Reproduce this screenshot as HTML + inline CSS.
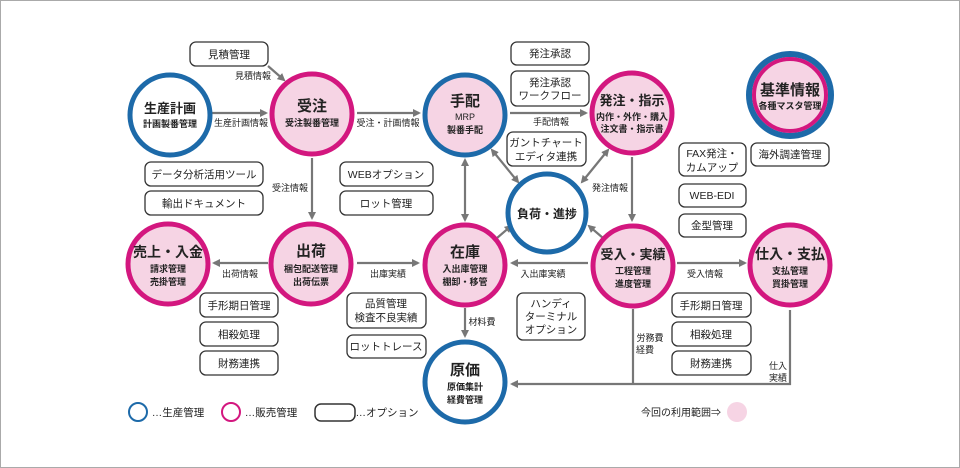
<!DOCTYPE html>
<html><head><meta charset="utf-8"><style>
html,body{margin:0;padding:0;background:#fff}
svg{display:block}
text{font-family:"Liberation Sans","Noto Sans CJK JP",sans-serif;fill:#222;text-anchor:middle}
.b{fill:#fff;stroke:#333;stroke-width:1.3}
.l{stroke:#777;stroke-width:2.2;fill:none}
.s{font-size:9px}
.o{font-size:10.5px}
</style></head><body>
<svg width="960" height="468" viewBox="0 0 960 468" xmlns="http://www.w3.org/2000/svg">
<defs>
<marker id="a" markerWidth="8" markerHeight="8" refX="6" refY="4" orient="auto-start-reverse" markerUnits="userSpaceOnUse"><path d="M0,0 L8,4 L0,8 z" fill="#777"/></marker>
</defs>
<rect x="0.5" y="0.5" width="959" height="467" fill="#fff" stroke="#aaa"/>

<!-- connectors -->
<line class="l" x1="212" y1="113" x2="266" y2="113" marker-end="url(#a)"/>
<line class="l" x1="268" y1="66" x2="284" y2="80" marker-end="url(#a)"/>
<line class="l" x1="357" y1="113" x2="419" y2="113" marker-end="url(#a)"/>
<line class="l" x1="510" y1="113" x2="586" y2="113" marker-end="url(#a)"/>
<line class="l" x1="312" y1="158" x2="312" y2="218" marker-end="url(#a)"/>
<line class="l" x1="465" y1="160" x2="465" y2="220" marker-start="url(#a)" marker-end="url(#a)"/>
<line class="l" x1="492" y1="150" x2="518" y2="182" marker-start="url(#a)" marker-end="url(#a)"/>
<line class="l" x1="608" y1="150" x2="582" y2="182" marker-start="url(#a)" marker-end="url(#a)"/>
<line class="l" x1="632" y1="157" x2="632" y2="220" marker-end="url(#a)"/>
<line class="l" x1="497" y1="238" x2="511" y2="226" marker-end="url(#a)"/>
<line class="l" x1="603" y1="238" x2="589" y2="226" marker-end="url(#a)"/>
<line class="l" x1="268" y1="263" x2="214" y2="263" marker-end="url(#a)"/>
<line class="l" x1="357" y1="263" x2="418" y2="263" marker-end="url(#a)"/>
<line class="l" x1="588" y1="263" x2="512" y2="263" marker-end="url(#a)"/>
<line class="l" x1="677" y1="263" x2="745" y2="263" marker-end="url(#a)"/>
<line class="l" x1="465" y1="308" x2="465" y2="336" marker-end="url(#a)"/>
<line class="l" x1="633" y1="309" x2="633" y2="384"/>
<polyline class="l" points="790,310 790,384 512,384" marker-end="url(#a)"/>

<!-- connector labels -->
<text class="s" x="241" y="126">生産計画情報</text>
<text class="s" x="253" y="79">見積情報</text>
<text class="s" x="388" y="126">受注・計画情報</text>
<text class="s" x="551" y="125">手配情報</text>
<text class="s" x="290" y="191">受注情報</text>
<text class="s" x="610" y="191">発注情報</text>
<text class="s" x="240" y="277">出荷情報</text>
<text class="s" x="388" y="277">出庫実績</text>
<text class="s" x="543" y="277">入出庫実績</text>
<text class="s" x="705" y="277">受入情報</text>
<text class="s" x="482" y="325">材料費</text>
<text class="s" x="650" y="341">労務費</text>
<text class="s" x="645" y="353">経費</text>
<text class="s" x="778" y="369">仕入</text>
<text class="s" x="778" y="381">実績</text>

<!-- option boxes -->
<g class="o">
<rect class="b" x="190" y="42" width="78" height="24" rx="6"/><text x="229" y="58">見積管理</text>
<rect class="b" x="145" y="162" width="118" height="24" rx="6"/><text x="204" y="178">データ分析活用ツール</text>
<rect class="b" x="145" y="191" width="118" height="24" rx="6"/><text x="204" y="207">輸出ドキュメント</text>
<rect class="b" x="340" y="162" width="93" height="24" rx="6"/><text x="386" y="178">WEBオプション</text>
<rect class="b" x="340" y="191" width="93" height="24" rx="6"/><text x="386" y="207">ロット管理</text>
<rect class="b" x="511" y="42" width="78" height="23" rx="6"/><text x="550" y="57">発注承認</text>
<rect class="b" x="511" y="71" width="78" height="35" rx="6"/><text x="550" y="86">発注承認</text><text x="550" y="99">ワークフロー</text>
<rect class="b" x="507" y="132" width="79" height="34" rx="6"/><text x="546" y="146">ガントチャート</text><text x="546" y="160">エディタ連携</text>
<rect class="b" x="679" y="143" width="67" height="33" rx="6"/><text x="712" y="157">FAX発注・</text><text x="712" y="171">カムアップ</text>
<rect class="b" x="751" y="143" width="78" height="23" rx="6"/><text x="790" y="158">海外調達管理</text>
<rect class="b" x="679" y="184" width="67" height="23" rx="6"/><text x="712" y="199">WEB-EDI</text>
<rect class="b" x="679" y="214" width="67" height="23" rx="6"/><text x="712" y="229">金型管理</text>
<rect class="b" x="200" y="293" width="78" height="24" rx="6"/><text x="239" y="309">手形期日管理</text>
<rect class="b" x="200" y="322" width="78" height="24" rx="6"/><text x="239" y="338">相殺処理</text>
<rect class="b" x="200" y="351" width="78" height="24" rx="6"/><text x="239" y="367">財務連携</text>
<rect class="b" x="347" y="293" width="79" height="35" rx="6"/><text x="386" y="307">品質管理</text><text x="386" y="321">検査不良実績</text>
<rect class="b" x="347" y="335" width="79" height="23" rx="6"/><text x="386" y="350">ロットトレース</text>
<rect class="b" x="517" y="293" width="68" height="47" rx="6"/><text x="551" y="307">ハンディ</text><text x="551" y="320">ターミナル</text><text x="551" y="333">オプション</text>
<rect class="b" x="672" y="293" width="79" height="24" rx="6"/><text x="711" y="309">手形期日管理</text>
<rect class="b" x="672" y="322" width="79" height="24" rx="6"/><text x="711" y="338">相殺処理</text>
<rect class="b" x="672" y="351" width="79" height="24" rx="6"/><text x="711" y="367">財務連携</text>
</g>

<!-- circles -->
<g stroke-width="5">
<circle cx="170" cy="115" r="40" fill="#fff" stroke="#1d6aa9"/>
<circle cx="312" cy="114" r="40" fill="#f6d4e4" stroke="#d3177f"/>
<circle cx="465" cy="115" r="40" fill="#f6d4e4" stroke="#1d6aa9"/>
<circle cx="632" cy="113" r="40" fill="#f6d4e4" stroke="#d3177f"/>
<circle cx="790" cy="95" r="41" fill="#f6d4e4" stroke="#1d6aa9" stroke-width="6"/>
<circle cx="790" cy="95" r="36" fill="none" stroke="#d3177f" stroke-width="4"/>
<circle cx="547" cy="213" r="39" fill="#fff" stroke="#1d6aa9"/>
<circle cx="168" cy="264" r="40" fill="#f6d4e4" stroke="#d3177f"/>
<circle cx="311" cy="264" r="40" fill="#f6d4e4" stroke="#d3177f"/>
<circle cx="465" cy="265" r="40" fill="#f6d4e4" stroke="#d3177f"/>
<circle cx="633" cy="266" r="40" fill="#f6d4e4" stroke="#d3177f"/>
<circle cx="790" cy="265" r="40" fill="#f6d4e4" stroke="#d3177f"/>
<circle cx="465" cy="382" r="40" fill="#fff" stroke="#1d6aa9"/>
</g>

<!-- circle text -->
<g font-weight="bold">
<text x="170" y="113" font-size="13">生産計画</text><text x="170" y="127" font-size="9">計画製番管理</text>
<text x="312" y="111" font-size="15">受注</text><text x="312" y="126" font-size="9">受注製番管理</text>
<text x="465" y="106" font-size="15">手配</text><text x="465" y="120" font-size="9" font-weight="normal">MRP</text><text x="465" y="133" font-size="9">製番手配</text>
<text x="632" y="105" font-size="13">発注・指示</text><text x="632" y="120" font-size="9">内作・外作・購入</text><text x="632" y="132" font-size="9">注文書・指示書</text>
<text x="790" y="95" font-size="15">基準情報</text><text x="790" y="109" font-size="9">各種マスタ管理</text>
<text x="547" y="218" font-size="12">負荷・進捗</text>
<text x="168" y="257" font-size="14">売上・入金</text><text x="168" y="272" font-size="9">請求管理</text><text x="168" y="285" font-size="9">売掛管理</text>
<text x="311" y="256" font-size="15">出荷</text><text x="311" y="272" font-size="9">梱包配送管理</text><text x="311" y="285" font-size="9">出荷伝票</text>
<text x="465" y="257" font-size="15">在庫</text><text x="465" y="272" font-size="9">入出庫管理</text><text x="465" y="285" font-size="9">棚卸・移管</text>
<text x="633" y="259" font-size="13">受入・実績</text><text x="633" y="274" font-size="9">工程管理</text><text x="633" y="287" font-size="9">進度管理</text>
<text x="790" y="259" font-size="14">仕入・支払</text><text x="790" y="274" font-size="9">支払管理</text><text x="790" y="287" font-size="9">買掛管理</text>
<text x="465" y="375" font-size="15">原価</text><text x="465" y="390" font-size="9">原価集計</text><text x="465" y="403" font-size="9">経費管理</text>
</g>

<!-- legend -->
<circle cx="138" cy="412" r="9" fill="#fff" stroke="#1d6aa9" stroke-width="2"/>
<text x="178" y="416" font-size="10.5">…生産管理</text>
<circle cx="231" cy="412" r="9" fill="#fff" stroke="#d3177f" stroke-width="2"/>
<text x="271" y="416" font-size="10.5">…販売管理</text>
<rect x="315" y="404" width="40" height="17" rx="6" fill="#fff" stroke="#333" stroke-width="1.5"/>
<text x="387" y="416" font-size="10.5">…オプション</text>
<text x="681" y="416" font-size="10">今回の利用範囲⇒</text>
<circle cx="737" cy="412" r="10" fill="#f6d4e4"/>
</svg>
</body></html>
